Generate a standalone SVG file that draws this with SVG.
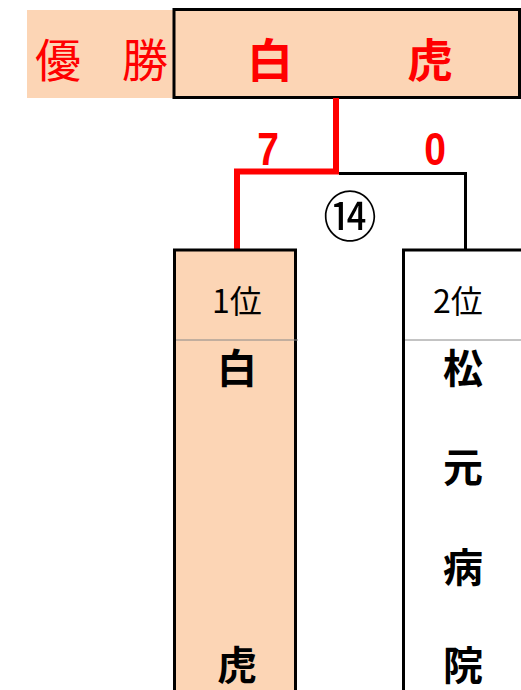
<svg xmlns="http://www.w3.org/2000/svg" width="521" height="690" viewBox="0 0 521 690">
<style>
.cjk{font-family:"Noto Sans CJK JP","Noto Sans CJK SC",sans-serif;}
.red{fill:#FF0000;}
.big{font-size:46px;}
.name{font-size:40px;font-weight:bold;fill:#000;text-anchor:middle;}
.rank{font-size:32px;fill:#000;text-anchor:middle;}
.box{stroke:#000;stroke-width:3;}
.div{stroke:#888;stroke-width:1;}
</style>
<rect width="521" height="690" fill="#fff"/>
<g id="champion">
<rect x="27" y="10" width="146" height="88" fill="#FCD5B5"/>
<text class="cjk red big" x="58" y="77" text-anchor="middle">優</text>
<text class="cjk red big" x="145" y="77" text-anchor="middle">勝</text>
<rect class="box" x="174" y="9.5" width="345.5" height="88" fill="#FCD5B5"/>
<text class="cjk red big" x="270" y="77" text-anchor="middle" font-weight="bold">白</text>
<text class="cjk red big" x="430" y="77" text-anchor="middle" font-weight="bold">虎</text>
</g>
<g id="connectors" fill="none">
<polyline points="336,98 336,171.5 237,171.5 237,250" stroke="#FF0000" stroke-width="6"/>
<polyline points="339,173.5 465.5,173.5 465.5,250" stroke="#000" stroke-width="3"/>
</g>
<g id="scores">
<text x="268" y="165" font-family="Liberation Sans,sans-serif" font-size="46" font-weight="bold" fill="#FF0000" text-anchor="middle" transform="translate(268,0) scale(0.85,1) translate(-268,0)">7</text>
<text x="435" y="165" font-family="Liberation Sans,sans-serif" font-size="46" font-weight="bold" fill="#FF0000" text-anchor="middle" transform="translate(435,0) scale(0.85,1) translate(-435,0)">0</text>
</g>
<g id="match14">
<text class="cjk" x="350" y="237" font-size="54" text-anchor="middle" fill="#000">⑭</text>
</g>
<g id="team1">
<rect class="box" x="174.5" y="250" width="121" height="460" fill="#FCD5B5"/>
<line class="div" x1="176" y1="340" x2="298" y2="340"/>
<text class="cjk rank" x="237" y="313">1位</text>
<text class="cjk name" x="237" y="383">白</text>
<text class="cjk name" x="237" y="680">虎</text>
</g>
<g id="team2">
<rect class="box" x="403.5" y="250" width="140" height="460" fill="#fff"/>
<line class="div" x1="405" y1="340" x2="521" y2="340"/>
<text class="cjk rank" x="458" y="313">2位</text>
<text class="cjk name" x="463" y="383">松</text>
<text class="cjk name" x="463" y="482">元</text>
<text class="cjk name" x="463" y="582">病</text>
<text class="cjk name" x="463" y="680">院</text>
</g>
</svg>
